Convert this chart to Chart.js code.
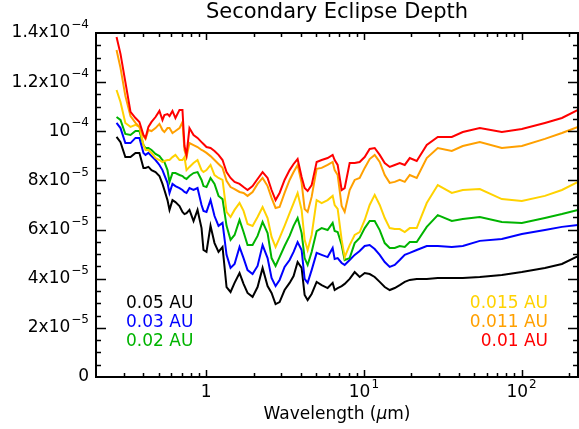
<!DOCTYPE html>
<html>
<head>
<meta charset="utf-8">
<script src="https://cdn.jsdelivr.net/npm/chart.js@4.4.0/dist/chart.umd.min.js"></script>
<style>
  html, body { margin: 0; padding: 0; background: #fff; }
  #wrap { width: 579px; height: 429px; }
</style>
</head>
<body>
<div id="wrap"><canvas id="eclipse" width="579" height="429"></canvas></div>
<script>
// Wavelength grid (micron) and eclipse depth per orbital distance, in units of 1e-5
const wavelength = [
  0.270, 0.286, 0.307, 0.331, 0.356, 0.377, 0.400, 0.412, 0.430, 0.450,
  0.477, 0.505, 0.528, 0.543, 0.568, 0.585, 0.611, 0.638, 0.677, 0.707,
  0.728, 0.750, 0.783, 0.831, 0.881, 0.934, 0.961, 1.004, 1.065, 1.129,
  1.197, 1.269, 1.346, 1.427, 1.513, 1.627, 1.725, 1.829, 1.968, 2.117,
  2.278, 2.450, 2.597, 2.754, 2.920, 3.141, 3.380, 3.583, 3.799, 4.028,
  4.209, 4.398, 4.663, 5.016, 5.397, 5.889, 6.338, 6.526, 6.819, 7.228,
  7.553, 8.125, 8.741, 9.403, 10.12, 10.88, 11.71, 12.60, 13.56, 14.58,
  15.69, 16.88, 18.16, 19.54, 21.63, 25.04, 29.42, 36.10, 42.40, 54.35,
  74.97, 100.4, 140.6, 180.3, 228
];

const depth005 = [
  9.77, 9.56, 8.95, 8.95, 9.12, 9.12, 8.51, 8.51, 8.55, 8.42,
  8.34, 8.18, 7.86, 7.61, 7.20, 6.80, 7.20, 7.12, 6.96, 6.72,
  6.63, 6.67, 6.80, 6.35, 6.80, 6.06, 5.17, 5.09, 6.15, 5.45,
  5.09, 5.29, 3.66, 3.46, 3.83, 4.23, 3.79, 3.42, 3.26, 3.66,
  4.44, 3.70, 3.42, 2.97, 3.05, 3.54, 3.83, 4.11, 4.68, 4.44,
  3.34, 3.13, 3.38, 3.87, 3.74, 3.62, 3.83, 3.54, 3.62, 3.70,
  3.79, 3.99, 4.27, 4.07, 4.23, 4.19, 4.07, 3.87, 3.66, 3.54,
  3.62, 3.74, 3.87, 3.95, 3.99, 3.99, 4.03, 4.03, 4.03, 4.07,
  4.15, 4.27, 4.44, 4.60, 4.92
];
const depth003 = [
  10.34, 10.13, 9.52, 9.52, 9.73, 9.73, 9.12, 9.04, 9.12, 8.99,
  8.83, 8.63, 8.42, 8.22, 7.90, 7.49, 7.86, 7.77, 7.69, 7.61,
  7.53, 7.49, 7.69, 7.61, 7.69, 7.00, 6.76, 6.72, 7.20, 6.55,
  6.15, 6.27, 4.97, 4.44, 4.60, 5.29, 4.84, 4.35, 4.19, 4.52,
  5.37, 4.84, 4.03, 3.70, 3.95, 4.48, 4.76, 5.09, 5.49, 5.17,
  3.99, 3.83, 4.35, 5.05, 4.97, 4.88, 5.25, 4.80, 4.84, 4.64,
  4.56, 4.76, 4.97, 5.13, 5.33, 5.37, 5.21, 4.97, 4.68, 4.48,
  4.56, 4.76, 4.97, 5.05, 5.17, 5.33, 5.33, 5.29, 5.33, 5.54,
  5.62, 5.82, 5.98, 6.11, 6.19
];
const depth002 = [
  10.58, 10.46, 9.89, 9.85, 10.01, 10.01, 9.44, 9.32, 9.32, 9.24,
  9.08, 8.99, 8.83, 8.75, 8.42, 7.94, 8.30, 8.30, 8.22, 8.18,
  8.10, 8.06, 8.18, 8.30, 8.34, 8.02, 7.77, 7.73, 8.10, 7.86,
  7.37, 7.24, 6.15, 5.58, 5.78, 6.39, 5.90, 5.37, 5.37, 5.74,
  6.31, 5.86, 4.84, 4.52, 4.88, 5.33, 5.74, 6.15, 6.47, 5.86,
  4.84, 4.56, 5.09, 5.94, 6.06, 5.98, 6.27, 5.94, 5.90, 5.37,
  4.76, 4.84, 5.45, 5.66, 6.06, 6.35, 6.35, 5.98, 5.45, 5.25,
  5.25, 5.33, 5.29, 5.49, 5.49, 6.11, 6.59, 6.35, 6.43, 6.51,
  6.31, 6.27, 6.47, 6.63, 6.80
];
const depth0015 = [
  11.68, 11.19, 10.34, 10.18, 10.26, 10.18, 9.44, 9.24, 9.24, 9.12,
  8.91, 8.83, 8.75, 8.79, 8.83, 8.83, 8.95, 9.04, 8.83, 8.83,
  8.95, 8.42, 8.55, 8.71, 8.83, 8.42, 8.34, 8.42, 8.63, 8.22,
  8.10, 8.02, 6.72, 6.51, 6.80, 7.08, 6.76, 6.23, 6.15, 6.51,
  6.92, 6.47, 5.70, 5.29, 5.66, 6.15, 6.67, 7.08, 7.49, 6.80,
  5.58, 5.17, 5.78, 7.20, 7.08, 7.20, 7.37, 7.00, 6.84, 5.58,
  4.88, 5.37, 5.78, 5.90, 6.39, 7.00, 7.41, 7.00, 6.47, 6.06,
  6.02, 6.02, 5.90, 6.06, 6.06, 7.08, 7.81, 7.49, 7.61, 7.65,
  7.24, 7.16, 7.37, 7.61, 7.94
];
const depth0011 = [
  13.31, 12.58, 11.44, 10.62, 10.34, 10.18, 9.81, 9.69, 10.05, 10.01,
  10.13, 10.30, 10.05, 9.97, 10.13, 10.13, 9.93, 10.01, 10.13, 10.38,
  9.24, 8.95, 9.52, 9.44, 9.36, 9.24, 9.20, 9.12, 8.99, 8.83,
  8.67, 8.51, 7.98, 7.73, 7.65, 7.53, 7.49, 7.37, 7.53, 7.86,
  8.10, 7.77, 7.29, 6.88, 6.92, 7.49, 8.02, 8.34, 8.63, 7.90,
  6.84, 6.72, 7.33, 8.47, 8.51, 8.63, 8.75, 8.42, 8.22, 6.96,
  6.72, 7.61, 8.02, 8.10, 8.51, 8.87, 9.04, 8.75, 8.22, 7.90,
  7.94, 8.02, 7.94, 8.22, 8.10, 8.91, 9.32, 9.20, 9.40, 9.56,
  9.32, 9.40, 9.69, 9.93, 10.18
];
const depth001 = [
  13.84, 13.15, 12.01, 10.79, 10.54, 10.38, 9.85, 9.73, 10.18, 10.38,
  10.58, 10.83, 10.46, 10.66, 10.70, 10.62, 10.83, 10.54, 10.87, 10.87,
  9.40, 9.04, 10.13, 9.85, 9.73, 9.56, 9.48, 9.36, 9.32, 9.20,
  9.04, 8.83, 8.34, 8.10, 7.94, 7.86, 7.73, 7.61, 7.77, 8.06,
  8.34, 8.10, 7.61, 7.20, 7.49, 8.02, 8.42, 8.67, 8.87, 8.14,
  7.69, 7.57, 7.81, 8.75, 8.83, 8.91, 9.04, 8.83, 8.63, 7.61,
  7.69, 8.71, 8.71, 8.75, 8.95, 9.28, 9.32, 9.04, 8.71, 8.55,
  8.63, 8.71, 8.63, 8.91, 8.79, 9.44, 9.77, 9.77, 9.97, 10.13,
  9.97, 10.09, 10.34, 10.54, 10.87
];

const seriesLabels = ['0.05 AU', '0.03 AU', '0.02 AU', '0.015 AU', '0.011 AU', '0.01 AU'];
const seriesColors = ['#000000', '#0000ff', '#00b400', '#ffd200', '#ffa000', '#ff0000'];
const seriesData   = [depth005, depth003, depth002, depth0015, depth0011, depth001];

// Axis ticks (y in units of 1e-5)
const yTickValues = [0, 2, 4, 6, 8, 10, 12, 14];
const yTickBase   = ['0', '2x10', '4x10', '6x10', '8x10', '10', '1.2x10', '1.4x10'];
const yTickExp    = ['', '\u22125', '\u22125', '\u22125', '\u22125', '\u22124', '\u22124', '\u22124'];
const xTickValues = [1, 10, 100];
const xTickBase   = ['1', '10', '10'];
const xTickExp    = ['', '1', '2'];
const xMinorTicks = [0.3, 0.4, 0.5, 0.6, 0.7, 0.8, 0.9, 2, 3, 4, 5, 6, 7, 8, 9,
                     20, 30, 40, 50, 60, 70, 80, 90, 200];

const FONT = '"DejaVu Sans", sans-serif';

function drawPowerText(ctx, base, exp, x, y, align, size) {
  const supSize = Math.round(size * 0.7);
  ctx.font = size + 'px ' + FONT;
  const wb = ctx.measureText(base).width;
  ctx.font = supSize + 'px ' + FONT;
  const we = exp ? ctx.measureText(exp).width + 1 : 0;
  const total = wb + we;
  let x0 = align === 'right' ? x - total : x - total / 2;
  ctx.textAlign = 'left';
  ctx.textBaseline = 'middle';
  ctx.font = size + 'px ' + FONT;
  ctx.fillText(base, x0, y);
  if (exp) {
    ctx.font = supSize + 'px ' + FONT;
    ctx.fillText(exp, x0 + wb + 1, y - 8);
  }
}

const idlFrame = {
  id: 'idlFrame',
  afterDraw(chart) {
    const { ctx, chartArea: a, scales: { x, y } } = chart;
    ctx.save();
    ctx.strokeStyle = '#000';
    ctx.fillStyle = '#000';

    // frame
    ctx.lineWidth = 2;
    ctx.strokeRect(a.left, a.top, a.right - a.left, a.bottom - a.top);

    // y ticks, inward on both sides
    ctx.lineWidth = 1.5;
    ctx.beginPath();
    for (let v = 0.5; v < 14; v += 0.5) {
      const py = Math.round(y.getPixelForValue(v)) + 0.5;
      const len = (v % 2 === 0) ? 10 : 5;
      ctx.moveTo(a.left, py); ctx.lineTo(a.left + len, py);
      ctx.moveTo(a.right, py); ctx.lineTo(a.right - len, py);
    }
    // x ticks, inward top and bottom
    const xt = xTickValues.map(v => [v, 7]).concat(xMinorTicks.map(v => [v, 4]));
    xt.forEach(([v, len]) => {
      const px = Math.round(x.getPixelForValue(v)) + 0.5;
      ctx.moveTo(px, a.bottom); ctx.lineTo(px, a.bottom - len);
      ctx.moveTo(px, a.top); ctx.lineTo(px, a.top + len);
    });
    ctx.stroke();

    // tick labels
    yTickValues.forEach((v, i) => {
      drawPowerText(ctx, yTickBase[i], yTickExp[i], 89, y.getPixelForValue(v), 'right', 17);
    });
    xTickValues.forEach((v, i) => {
      drawPowerText(ctx, xTickBase[i], xTickExp[i], x.getPixelForValue(v), 393, 'center', 17);
    });

    // title
    ctx.textAlign = 'center';
    ctx.textBaseline = 'middle';
    ctx.font = '21px ' + FONT;
    ctx.fillText('Secondary Eclipse Depth', (a.left + a.right) / 2, 13);

    // x axis title with italic mu
    const parts = [['Wavelength (', ''], ['\u03bc', 'italic '], ['m)', '']];
    let tw = 0;
    parts.forEach(p => { ctx.font = p[1] + '17px ' + FONT; tw += ctx.measureText(p[0]).width; });
    let cx = (a.left + a.right) / 2 - tw / 2;
    ctx.textAlign = 'left';
    parts.forEach(p => {
      ctx.font = p[1] + '17px ' + FONT;
      ctx.fillText(p[0], cx, 415);
      cx += ctx.measureText(p[0]).width;
    });

    // legend text
    ctx.font = '17px ' + FONT;
    const rows = [304, 323, 342];
    [0, 1, 2].forEach((s, i) => {
      ctx.fillStyle = seriesColors[s];
      ctx.textAlign = 'left';
      ctx.fillText(seriesLabels[s], 126, rows[i]);
    });
    [3, 4, 5].forEach((s, i) => {
      ctx.fillStyle = seriesColors[s];
      ctx.textAlign = 'right';
      ctx.fillText(seriesLabels[s], 548, rows[i]);
    });
    ctx.restore();
  }
};

new Chart(document.getElementById('eclipse'), {
  type: 'line',
  data: {
    datasets: seriesData.map((d, i) => ({
      label: seriesLabels[i],
      data: wavelength.map((w, k) => ({ x: w, y: d[k] })),
      borderColor: seriesColors[i],
      borderWidth: 2,
      pointRadius: 0,
      tension: 0,
      fill: false,
      order: 5 - i
    }))
  },
  options: {
    responsive: false,
    animation: false,
    devicePixelRatio: 1,
    layout: { padding: { top: 33, right: 1, left: 0, bottom: 0 } },
    plugins: { legend: { display: false }, tooltip: { enabled: false }, title: { display: false } },
    scales: {
      x: {
        type: 'logarithmic', min: 0.2, max: 228,
        grid: { display: false }, border: { display: false },
        ticks: { display: false },
        afterFit: s => { s.height = 52; }
      },
      y: {
        type: 'linear', min: 0, max: 14,
        grid: { display: false }, border: { display: false },
        ticks: { display: false },
        afterFit: s => { s.width = 96; }
      }
    }
  },
  plugins: [idlFrame]
});
</script>
</body>
</html>
